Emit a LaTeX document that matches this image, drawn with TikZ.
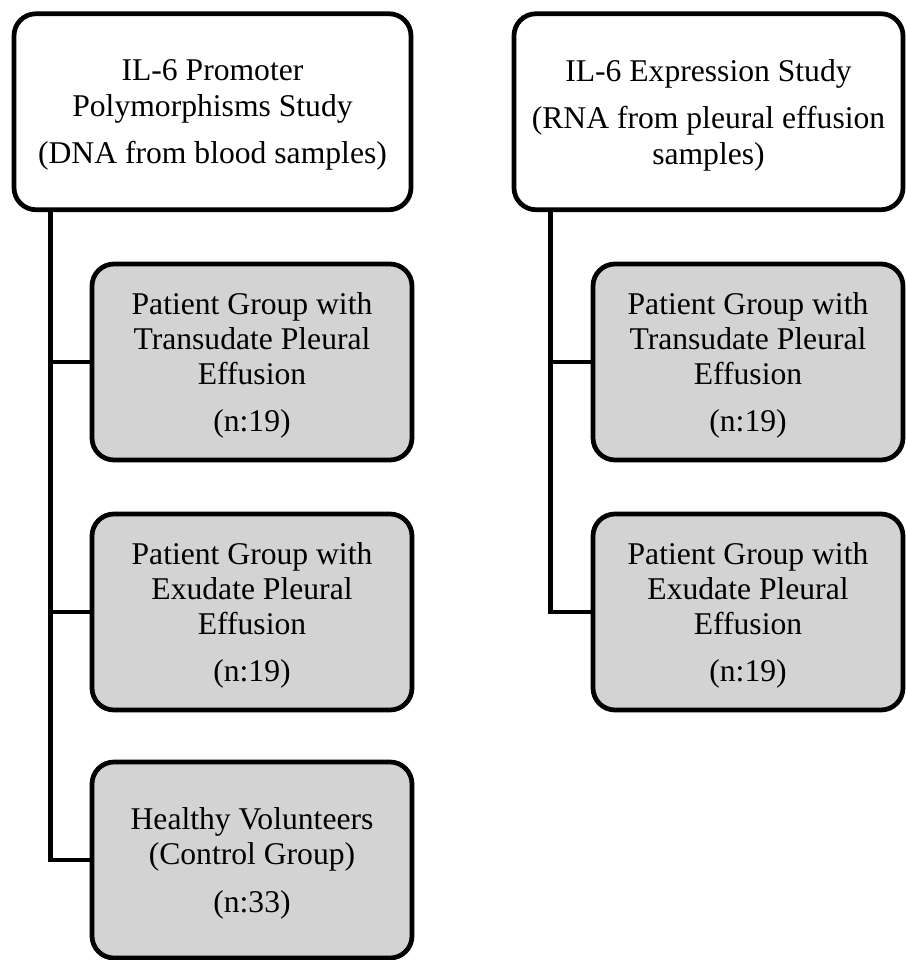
\documentclass[tikz,border=0pt]{standalone}
\usepackage{fontspec}
\setmainfont{Liberation Serif}
\usetikzlibrary{positioning}
\definecolor{groupgray}{RGB}{211,211,211}
\tikzset{
  study/.style={draw, line width=2.7pt, rounded corners=0.44cm, fill=white,
    align=center, inner sep=0pt, minimum height=3.92cm, text depth=0pt,
    font=\fontsize{18}{20}\selectfont},
  group/.style={study, fill=groupgray, minimum width=6.4cm},
  link/.style={line width=2.6pt}
}
\begin{document}
\begin{tikzpicture}
    \useasboundingbox (0,0) rectangle (18.1,-19.2);

    % Study boxes on top
    \node[study, minimum width=7.94cm] (dna) at (4.25,-2.235)
        {IL-6 Promoter\\Polymorphisms Study\\[7pt](DNA from blood samples)};
    \node[study, minimum width=7.78cm] (rna) at (14.17,-2.235)
        {IL-6 Expression Study\\[7pt](RNA from pleural effusion\\samples)};

    % Groups of the polymorphism study
    \node[group] (dnaTrans) at (5.04,-7.24)
        {Patient Group with\\Transudate Pleural\\Effusion\\[7pt](n:19)};
    \node[group] (dnaExud) at (5.04,-12.24)
        {Patient Group with\\Exudate Pleural\\Effusion\\[7pt](n:19)};
    \node[group] (dnaCtrl) at (5.04,-17.2)
        {Healthy Volunteers\\(Control Group)\\[7pt](n:33)};

    % Groups of the expression study
    \node[group, minimum width=6.2cm] (rnaTrans) at (14.96,-7.24)
        {Patient Group with\\Transudate Pleural\\Effusion\\[7pt](n:19)};
    \node[group, minimum width=6.2cm] (rnaExud) at (14.96,-12.24)
        {Patient Group with\\Exudate Pleural\\Effusion\\[7pt](n:19)};

    % Connectors
    \coordinate (dnaTrunk) at ([xshift=0.78cm]dna.south west);
    \coordinate (rnaTrunk) at ([xshift=0.78cm]rna.south west);
    \draw[link] (dnaTrunk) |- (dnaCtrl.west);
    \draw[link] (dnaTrans.west) -- (dnaTrans.west -| dnaTrunk);
    \draw[link] (dnaExud.west) -- (dnaExud.west -| dnaTrunk);
    \draw[link] (rnaTrunk) |- (rnaExud.west);
    \draw[link] (rnaTrans.west) -- (rnaTrans.west -| rnaTrunk);
\end{tikzpicture}
\end{document}
